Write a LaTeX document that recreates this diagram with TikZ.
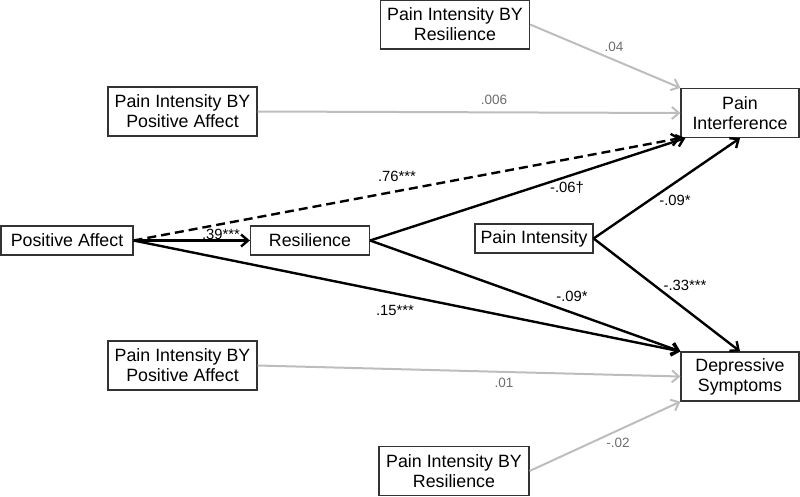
\documentclass[tikz,border=0pt]{standalone}
\usepackage{fontspec}
\setmainfont{Liberation Sans}
\usetikzlibrary{arrows.meta}
\definecolor{lgray}{HTML}{BDBDBD}
\definecolor{tgray}{HTML}{6E6E6E}
\begin{document}
\begin{tikzpicture}[x=1pt,y=-1pt,
  box/.style={draw=black!80, line width=1.2pt, fill=white, align=center, inner sep=0pt,
    font=\fontsize{17.8}{20}\selectfont},
  tall/.style={box, minimum height=49pt},
  short/.style={box, minimum height=29pt},
  blk/.style={line width=2.4pt, black, -{Straight Barb[length=7pt,width=12pt,line width=2.4pt]}},
  gry/.style={line width=2pt, lgray, -{Straight Barb[length=7pt,width=12pt,line width=2pt]}},
  blab/.style={font=\fontsize{14.8}{17}\selectfont, inner sep=0pt},
  glab/.style={font=\fontsize{13.5}{16}\selectfont, text=tgray, inner sep=0pt}
]
\useasboundingbox (0,0) rectangle (800,496);

% boxes
\node[tall, minimum width=149pt] (irTop) at (455,24.5) {Pain Intensity BY\\Resilience};
\node[tall, minimum width=149pt] (ipTop) at (182.5,111.5) {Pain Intensity BY\\Positive Affect};
\node[tall, minimum width=118pt] (pint) at (740,113) {Pain\\Interference};
\node[short, minimum width=132pt] (pa) at (67,240.5) {Positive Affect};
\node[short, minimum width=119pt] (res) at (310,240.5) {Resilience};
\node[short, minimum width=118pt] (pin) at (534,238.5) {Pain Intensity};
\node[tall, minimum width=118pt] (dep) at (740,376.5) {Depressive\\Symptoms};
\node[tall, minimum width=149pt] (ipBot) at (182.5,365.5) {Pain Intensity BY\\Positive Affect};
\node[tall, minimum width=150pt] (irBot) at (454,471) {Pain Intensity BY\\Resilience};

% gray paths
\draw[gry] (irTop.east) -- (pint.north west);
\draw[gry] (ipTop.east) -- (pint.west);
\draw[gry] (ipBot.east) -- (dep.west);
\draw[gry] (irBot.east) -- (dep.south west);

% black paths
\draw[blk, dashed, dash pattern=on 9pt off 5pt] (pa.east) -- (pint.south west);
\draw[blk] (pa.east) -- (res.west);
\draw[blk] (res.east) -- ([xshift=5pt]pint.south west);
\draw[blk] (res.east) -- (dep.north west);
\draw[blk] (pa.east) -- (dep.north west);
\draw[blk] (pin.east) -- (pint.south);
\draw[blk] (pin.east) -- (dep.north);

% labels
\node[glab] (l1) at (614,47) {.04};
\node[glab] (l2) at (494,100) {.006};
\node[blab] (l3) at (397,176) {.76***};
\node[blab] (l4) at (221,234) {.39***};
\node[blab] (l5) at (567,188) {-.06†};
\node[blab] (l6) at (675,200) {-.09*};
\node[blab] (l7) at (685,285) {-.33***};
\node[blab] (l8) at (572,296) {-.09*};
\node[blab] (l9) at (395,310) {.15***};
\node[glab] (l10) at (504,383) {.01};
\node[glab] (l11) at (618,443) {-.02};
\end{tikzpicture}
\end{document}
